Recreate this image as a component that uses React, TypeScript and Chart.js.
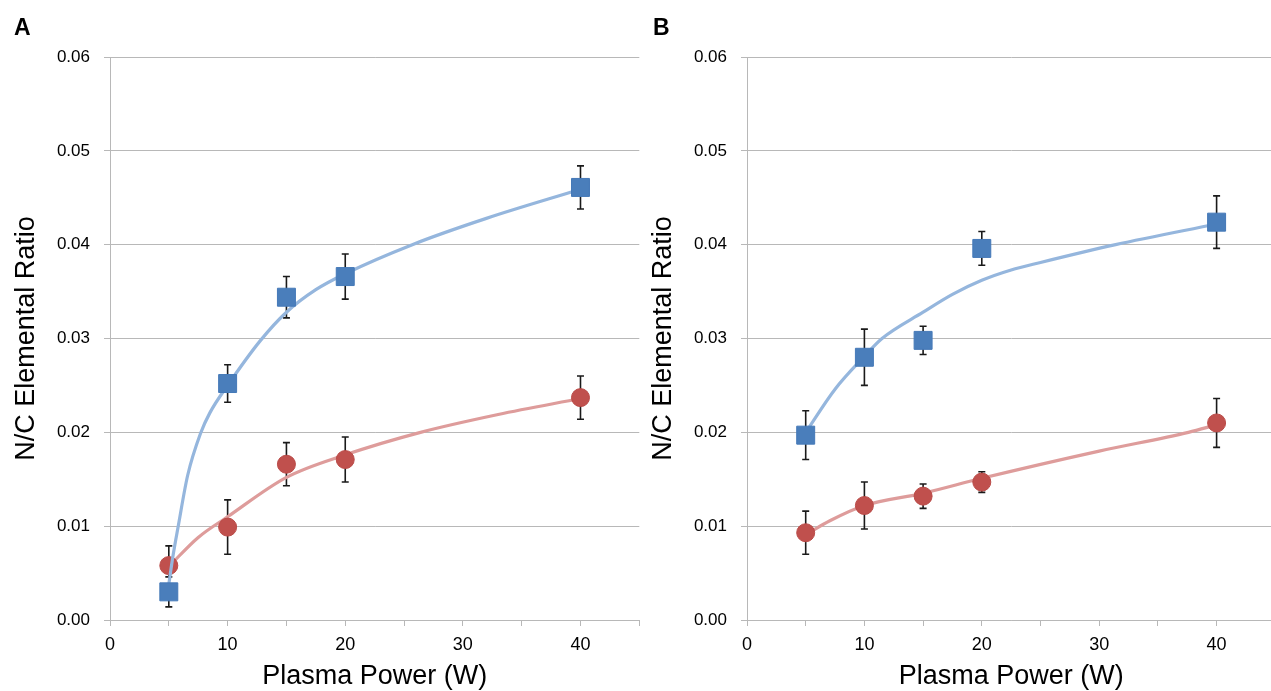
import React, { useEffect, useRef } from 'react';
import { Chart, registerables } from 'chart.js';

Chart.register(...registerables);

const FONT = '"Liberation Sans", Arial, Helvetica, sans-serif';

// Shared x categories (Plasma Power, W)
const powerLevels = [5, 10, 15, 20, 40];
const xAxisTitle = 'Plasma Power (W)';
const yAxisTitle = 'N/C Elemental Ratio';

// Panel A
const blueA = [0.0030, 0.0252, 0.0344, 0.0366, 0.0461];
const blueAErr = [0.0016, 0.0020, 0.0022, 0.0024, 0.0023];
const redA = [0.0058, 0.0099, 0.0166, 0.0171, 0.0237];
const redAErr = [0.0021, 0.0029, 0.0023, 0.0024, 0.0023];
const blueTrendAX = [5.0, 5.35, 5.8, 6.6, 7.7, 8.5, 10, 12.8, 15, 17.5, 20, 25.7, 32, 40];
const blueTrendAY = [0.0038, 0.0068, 0.0100, 0.0154, 0.0199, 0.0221, 0.0250, 0.0298, 0.0328, 0.0352, 0.0369, 0.0400, 0.0428, 0.0459];
const redTrendAX = [5, 7.5, 10, 15, 20, 26.4, 33, 40];
const redTrendAY = [0.0057, 0.0088, 0.0110, 0.0152, 0.0176, 0.0200, 0.0219, 0.0236];

// Panel B
const blueB = [0.0197, 0.0280, 0.0298, 0.0396, 0.0424];
const blueBErr = [0.0026, 0.0030, 0.0015, 0.0018, 0.0028];
const redB = [0.0093, 0.0122, 0.0132, 0.0147, 0.0210];
const redBErr = [0.0023, 0.0025, 0.0013, 0.0011, 0.0026];
const blueTrendBX = [5, 7.5, 10, 11.5, 15, 17.5, 20, 22.5, 25, 31.4, 40];
const blueTrendBY = [0.0200, 0.0246, 0.0281, 0.0300, 0.0328, 0.0347, 0.0362, 0.0373, 0.0381, 0.0400, 0.0422];
const redTrendBX = [5, 7.1, 10, 15, 20, 30, 37.6, 40];
const redTrendBY = [0.0091, 0.0106, 0.0122, 0.0135, 0.0151, 0.0180, 0.0200, 0.0208];

const yTicks = [0, 0.01, 0.02, 0.03, 0.04, 0.05, 0.06];
const xLabelledTicks = [0, 10, 20, 30, 40];

const toPoints = (xs: number[], ys: number[]) => xs.map((x, i) => ({ x, y: ys[i] }));

const errorBarPlugin = {
  id: 'errorBars',
  beforeDatasetsDraw(chart: any) {
    const { ctx, scales } = chart;
    const xs = scales.x;
    const ys = scales.y;
    ctx.save();
    ctx.strokeStyle = '#1A1A1A';
    ctx.lineWidth = 1.6;
    chart.data.datasets.forEach((ds: any) => {
      if (!ds.errors) return;
      ds.data.forEach((pt: any, i: number) => {
        const e = ds.errors[i];
        const px = xs.getPixelForValue(pt.x);
        const top = ys.getPixelForValue(pt.y + e);
        const bot = ys.getPixelForValue(pt.y - e);
        ctx.beginPath();
        ctx.moveTo(px, top);
        ctx.lineTo(px, bot);
        ctx.moveTo(px - 3.5, top);
        ctx.lineTo(px + 3.5, top);
        ctx.moveTo(px - 3.5, bot);
        ctx.lineTo(px + 3.5, bot);
        ctx.stroke();
      });
    });
    ctx.restore();
  },
};

const panelLabelPlugin = {
  id: 'panelLabel',
  afterDraw(chart: any, _args: any, opts: any) {
    const ctx = chart.ctx;
    ctx.save();
    ctx.font = `bold 23px ${FONT}`;
    ctx.fillStyle = '#000';
    ctx.textBaseline = 'alphabetic';
    ctx.textAlign = 'left';
    ctx.fillText(opts.text, opts.x, opts.y);
    ctx.restore();
  },
};

interface PanelSpec {
  label: string;
  labelX: number;
  blue: number[];
  blueErr: number[];
  red: number[];
  redErr: number[];
  blueTX: number[];
  blueTY: number[];
  redTX: number[];
  redTY: number[];
}

const GRID = '#B8B8B8';

function buildConfig(p: PanelSpec): any {
  return {
    type: 'scatter',
    data: {
      datasets: [
        {
          label: 'blue',
          data: toPoints(powerLevels, p.blue),
          errors: p.blueErr,
          pointStyle: 'rect',
          pointRadius: 12.7,
          backgroundColor: '#4A7EBB',
          borderColor: '#4579B8',
          borderWidth: 1,
          showLine: false,
          order: 0,
        },
        {
          label: 'blue trend',
          data: toPoints(p.blueTX, p.blueTY),
          showLine: true,
          pointRadius: 0,
          borderColor: '#95B6DD',
          borderWidth: 3.2,
          cubicInterpolationMode: 'monotone',
          fill: false,
          order: 1,
        },
        {
          label: 'red',
          data: toPoints(powerLevels, p.red),
          errors: p.redErr,
          pointStyle: 'circle',
          pointRadius: 9,
          backgroundColor: '#C0504D',
          borderColor: '#BA4B48',
          borderWidth: 1,
          showLine: false,
          order: 2,
        },
        {
          label: 'red trend',
          data: toPoints(p.redTX, p.redTY),
          showLine: true,
          pointRadius: 0,
          borderColor: '#DE9C9B',
          borderWidth: 3.2,
          cubicInterpolationMode: 'monotone',
          fill: false,
          order: 3,
        },
      ],
    },
    options: {
      responsive: false,
      animation: false,
      events: [],
      layout: { padding: { top: 57, right: 0, left: 0, bottom: 0 } },
      plugins: {
        legend: { display: false },
        tooltip: { enabled: false },
        panelLabel: { text: p.label, x: p.labelX, y: 35 },
      },
      scales: {
        x: {
          type: 'linear',
          min: 0,
          max: 45,
          afterFit: (s: any) => {
            s.height = 71;
          },
          afterBuildTicks: (s: any) => {
            const t = [];
            for (let v = 0; v <= 45; v += 5) t.push({ value: v });
            s.ticks = t;
          },
          ticks: {
            autoSkip: false,
            maxRotation: 0,
            padding: 8,
            color: '#000',
            font: { size: 18, family: FONT },
            callback: (v: any) => (xLabelledTicks.includes(Number(v)) ? String(v) : ''),
          },
          grid: {
            drawOnChartArea: false,
            drawTicks: true,
            tickLength: 6,
            color: GRID,
          },
          border: { color: GRID, width: 1 },
          title: {
            display: true,
            text: xAxisTitle,
            color: '#000',
            font: { size: 27, family: FONT, lineHeight: 1 },
            padding: { top: 0, bottom: 1 },
          },
        },
        y: {
          type: 'linear',
          min: 0,
          max: 0.06,
          afterFit: (s: any) => {
            s.width = 110;
          },
          afterBuildTicks: (s: any) => {
            s.ticks = yTicks.map((v) => ({ value: v }));
          },
          ticks: {
            padding: 14,
            color: '#000',
            font: { size: 17, family: FONT },
            callback: (v: any) => Number(v).toFixed(2),
          },
          grid: {
            color: GRID,
            tickLength: 6,
            drawTicks: true,
          },
          border: { color: GRID, width: 1 },
          title: {
            display: true,
            text: yAxisTitle,
            color: '#000',
            font: { size: 27, family: FONT, lineHeight: 1 },
            padding: { top: 13, bottom: 0 },
          },
        },
      },
    },
    plugins: [errorBarPlugin, panelLabelPlugin],
  };
}

function Panel({ spec, left, width }: { spec: PanelSpec; left: number; width: number }) {
  const ref = useRef<HTMLCanvasElement | null>(null);
  useEffect(() => {
    if (!ref.current) return;
    const chart = new Chart(ref.current, buildConfig(spec));
    return () => chart.destroy();
  }, [spec]);
  return (
    <canvas
      ref={ref}
      width={width}
      height={691}
      style={{ position: 'absolute', left, top: 0, width, height: 691 }}
    />
  );
}

const specA: PanelSpec = {
  label: 'A',
  labelX: 14,
  blue: blueA,
  blueErr: blueAErr,
  red: redA,
  redErr: redAErr,
  blueTX: blueTrendAX,
  blueTY: blueTrendAY,
  redTX: redTrendAX,
  redTY: redTrendAY,
};

const specB: PanelSpec = {
  label: 'B',
  labelX: 16,
  blue: blueB,
  blueErr: blueBErr,
  red: redB,
  redErr: redBErr,
  blueTX: blueTrendBX,
  blueTY: blueTrendBY,
  redTX: redTrendBX,
  redTY: redTrendBY,
};

export default function App() {
  return (
    <div
      style={{
        position: 'absolute',
        left: 0,
        top: 0,
        width: 1271,
        height: 691,
        overflow: 'hidden',
        background: '#fff',
      }}
    >
      <Panel spec={specA} left={0} width={653} />
      <Panel spec={specB} left={637} width={652} />
    </div>
  );
}
